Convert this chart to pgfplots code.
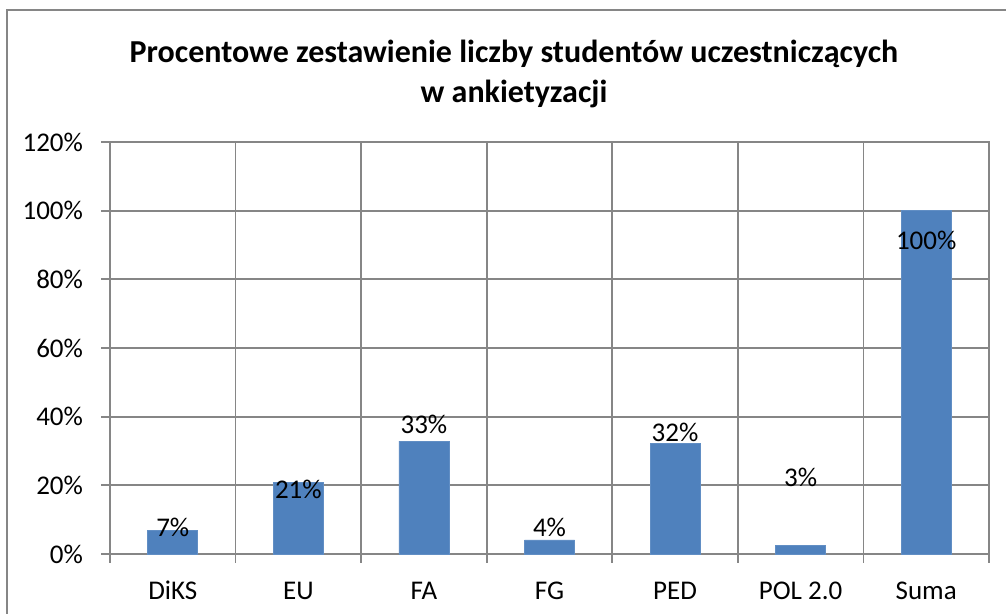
\documentclass[border=0pt]{standalone}
\usepackage{pgfplots}
\pgfplotsset{compat=1.18}
\usepackage{pgfplotstable}
\usepackage{fontspec}
\setmainfont{Carlito}
\definecolor{barblue}{HTML}{4F81BD}
\definecolor{gridgray}{HTML}{868686}

\pgfplotstableread{
x y
0 6.9
1 20.8
2 32.9
3 4.1
4 32.1
5 2.4
6 100
}\bardata

\pgfplotstableread{
x y lab
0 7.6 7\%
1 18.9 21\%
2 37.6 33\%
3 7.6 4\%
4 35.5 32\%
5 22.4 3\%
6 91.2 100\%
}\labdata

\begin{document}
\begin{tikzpicture}
\useasboundingbox (0,0) rectangle (503pt,307pt);
\draw[gridgray, line width=0.9pt] (3.5pt,-20pt) -- (3.5pt,302pt) -- (540pt,302pt);
\node[font=\bfseries\fontsize{16}{20}\selectfont, align=center] at (257pt,270pt)
  {Procentowe zestawienie liczby studentów uczestniczących\\w ankietyzacji};
\begin{axis}[
  at={(55pt,30pt)}, anchor=south west,
  width=439.5pt, height=206pt, scale only axis,
  xmin=-0.5, xmax=6.5, ymin=0, ymax=120,
  xtick={0,...,6},
  xticklabels={DiKS,EU,FA,FG,PED,POL 2.0,Suma},
  minor xtick={-0.5,0.5,...,6.5},
  ytick={0,20,...,120},
  yticklabels={0\%,20\%,40\%,60\%,80\%,100\%,120\%},
  xtick pos=bottom, ytick pos=left,
  ymajorgrids, xminorgrids,
  grid style={gridgray, line width=0.9pt},
  axis line style={gridgray, line width=0.9pt},
  major x tick style={draw=none},
  major y tick style={gridgray, line width=0.9pt},
  minor x tick style={gridgray, line width=0.9pt},
  tick align=outside,
  major tick length=4.5pt, minor tick length=4.5pt,
  tick label style={font=\fontsize{13.5}{15}\selectfont},
  xticklabel style={yshift=-5pt, text height=9.5pt, text depth=2.5pt},
  yticklabel style={xshift=-5.5pt},
  clip=false,
]
\addplot[ybar, bar width=25pt, bar shift=0pt, fill=barblue, draw=barblue!90!white] table[x=x,y=y] {\bardata};
\addplot[only marks, mark=none, nodes near coords, point meta=explicit symbolic,
  nodes near coords style={anchor=center, font=\fontsize{13.5}{15}\selectfont, inner sep=0pt}]
  table[x=x,y=y,meta=lab] {\labdata};
\end{axis}
\end{tikzpicture}
\end{document}
